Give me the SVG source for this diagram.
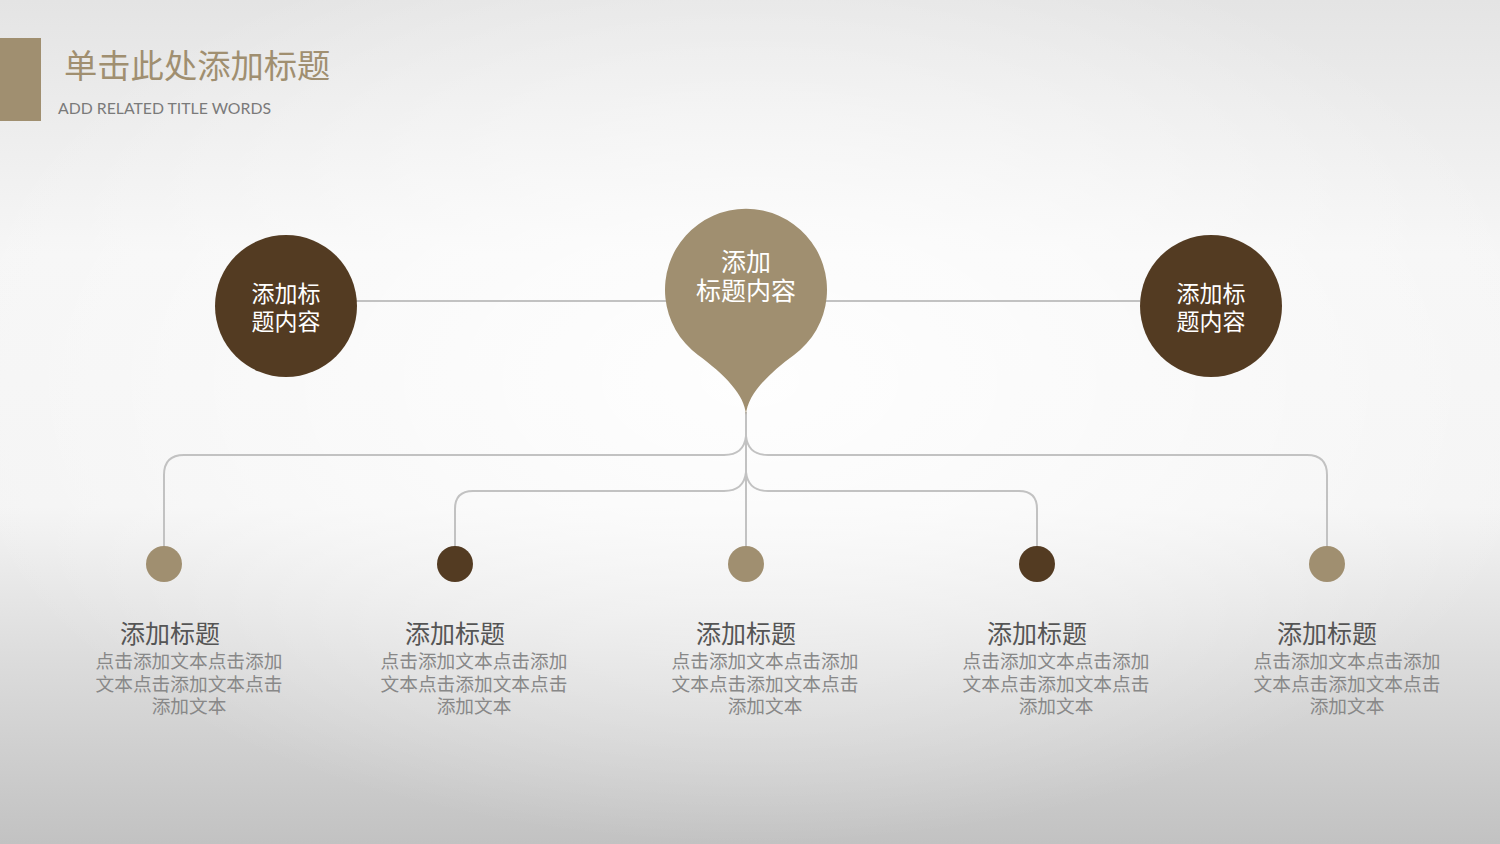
<svg xmlns="http://www.w3.org/2000/svg" width="1500" height="844" viewBox="0 0 1500 844">
<defs>
<linearGradient id="bgv" x1="0" y1="0" x2="0" y2="1">
<stop offset="0" stop-color="#e4e4e4"/>
<stop offset="0.3" stop-color="#f6f6f6"/>
<stop offset="0.6" stop-color="#f4f4f4"/>
<stop offset="0.78" stop-color="#dcdcdc"/>
<stop offset="1" stop-color="#c2c2c2"/>
</linearGradient>
<radialGradient id="glow" cx="0.5" cy="0.45" r="0.55">
<stop offset="0" stop-color="#ffffff" stop-opacity="0.9"/>
<stop offset="0.6" stop-color="#ffffff" stop-opacity="0.4"/>
<stop offset="1" stop-color="#ffffff" stop-opacity="0"/>
</radialGradient>
<style>
.cn{font-family:"Noto Sans CJK SC","Noto Sans",sans-serif;}
.wt{fill:#ffffff;font-size:23px;text-anchor:middle;}
.pt{fill:#ffffff;font-size:25px;text-anchor:middle;}
.ht{fill:#555555;font-size:25px;text-anchor:middle;}
.bt{fill:#888888;font-size:18.7px;text-anchor:middle;}
.ln{fill:none;stroke:#c2c2c2;stroke-width:2;}
.tan{fill:#a08f70;}
.dark{fill:#533b22;}
</style>
</defs>
<rect width="1500" height="844" fill="url(#bgv)"/>
<rect width="1500" height="844" fill="url(#glow)"/>

<g id="header">
<rect x="0" y="38" width="41" height="83" class="tan"/>
<text x="64" y="78" class="cn" font-size="33.3" fill="#a08f70">单击此处添加标题</text>
<text x="58" y="114" font-family="Lato,'Open Sans',sans-serif" font-size="15.8" fill="#7a7a7a">ADD RELATED TITLE WORDS</text>
</g>

<g id="connectors">
<line x1="356" y1="301" x2="666" y2="301" class="ln"/>
<line x1="826" y1="301" x2="1140" y2="301" class="ln"/>
<line x1="746" y1="412" x2="746" y2="547" class="ln"/>
<path d="M746,436 Q744,455 724,455 L184,455 Q164,455 164,475 L164,547" class="ln"/>
<path d="M746,436 Q748,455 768,455 L1307,455 Q1327,455 1327,475 L1327,547" class="ln"/>
<path d="M746,472 Q744,491 724,491 L473,491 Q455,491 455,509 L455,547" class="ln"/>
<path d="M746,472 Q748,491 768,491 L1019,491 Q1037,491 1037,509 L1037,547" class="ln"/>
</g>

<g id="node-left">
<circle cx="286" cy="306" r="71" class="dark"/>
<text x="286" y="302" class="cn wt">添加标</text>
<text x="286" y="330" class="cn wt">题内容</text>
</g>
<g id="node-right">
<circle cx="1211" cy="306" r="71" class="dark"/>
<text x="1211" y="302" class="cn wt">添加标</text>
<text x="1211" y="330" class="cn wt">题内容</text>
</g>
<g id="node-center">
<path d="M746,415 C745,395 724,374 698,355 A81,81 0 1 1 794,355 C768,374 747,395 746,415 Z" class="tan"/>
<text x="746" y="271" class="cn pt">添加</text>
<text x="746" y="300" class="cn pt">标题内容</text>
</g>

<g id="item-1">
<circle cx="164" cy="564" r="18" class="tan"/>
<text x="170" y="643" class="cn ht">添加标题</text>
<text x="189" y="668" class="cn bt">点击添加文本点击添加</text>
<text x="189" y="690.5" class="cn bt">文本点击添加文本点击</text>
<text x="189" y="713" class="cn bt">添加文本</text>
</g>
<g id="item-2">
<circle cx="455" cy="564" r="18" class="dark"/>
<text x="455" y="643" class="cn ht">添加标题</text>
<text x="474" y="668" class="cn bt">点击添加文本点击添加</text>
<text x="474" y="690.5" class="cn bt">文本点击添加文本点击</text>
<text x="474" y="713" class="cn bt">添加文本</text>
</g>
<g id="item-3">
<circle cx="746" cy="564" r="18" class="tan"/>
<text x="746" y="643" class="cn ht">添加标题</text>
<text x="765" y="668" class="cn bt">点击添加文本点击添加</text>
<text x="765" y="690.5" class="cn bt">文本点击添加文本点击</text>
<text x="765" y="713" class="cn bt">添加文本</text>
</g>
<g id="item-4">
<circle cx="1037" cy="564" r="18" class="dark"/>
<text x="1037" y="643" class="cn ht">添加标题</text>
<text x="1056" y="668" class="cn bt">点击添加文本点击添加</text>
<text x="1056" y="690.5" class="cn bt">文本点击添加文本点击</text>
<text x="1056" y="713" class="cn bt">添加文本</text>
</g>
<g id="item-5">
<circle cx="1327" cy="564" r="18" class="tan"/>
<text x="1327" y="643" class="cn ht">添加标题</text>
<text x="1347" y="668" class="cn bt">点击添加文本点击添加</text>
<text x="1347" y="690.5" class="cn bt">文本点击添加文本点击</text>
<text x="1347" y="713" class="cn bt">添加文本</text>
</g>
</svg>
